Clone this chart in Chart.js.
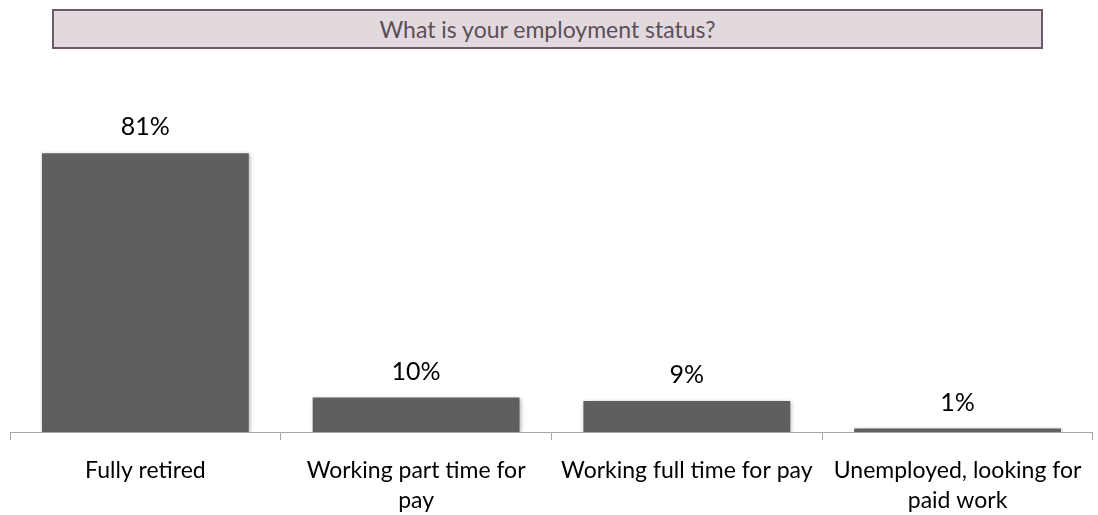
<!DOCTYPE html>
<html lang="en">
<head>
    <meta charset="UTF-8">
    <title>Employment status</title>
    <style>
        body {
            margin: 0;
            background-color: white;
            font-family: Lato, "Open Sans", sans-serif;
        }
        .wrap {
            position: relative;
            width: 1098px;
            height: 515px;
        }
        .title-box {
            position: absolute;
            left: 52px;
            top: 9px;
            width: 987px;
            height: 36px;
            background-color: #e2d9de;
            border: 2px solid #6e5a68;
            color: #5c4f57;
            font-size: 23px;
            line-height: 36px;
            text-align: center;
        }
        canvas {
            position: absolute;
            left: 0;
            top: 0;
        }
    </style>
</head>
<body>
    <div class="wrap">
        <canvas id="statusChart" width="1098" height="515"></canvas>
        <div class="title-box">What is your employment status?</div>
    </div>

    <script src="https://cdn.jsdelivr.net/npm/chart.js"></script>
    <script>
        // categories (wrapped like the original) and percentages
        const categories = [
            ['Fully retired'],
            ['Working part time for', 'pay'],
            ['Working full time for pay'],
            ['Unemployed, looking for', 'paid work']
        ];
        const percents = [81, 10, 9, 1];

        // writes the value above each bar
        const valueLabels = {
            id: 'valueLabels',
            afterDatasetsDraw(chart) {
                const ctx = chart.ctx;
                const meta = chart.getDatasetMeta(0);
                ctx.save();
                ctx.font = '25px Lato, sans-serif';
                ctx.fillStyle = '#000';
                ctx.textAlign = 'center';
                ctx.textBaseline = 'middle';
                meta.data.forEach(function(bar, i) {
                    ctx.fillText(percents[i] + '%', bar.x, bar.y - 26);
                });
                ctx.restore();
            }
        };

        // soft shadow behind the bars
        const barShadow = {
            id: 'barShadow',
            beforeDatasetsDraw(chart) {
                chart.ctx.save();
                chart.ctx.shadowColor = 'rgba(0, 0, 0, 0.3)';
                chart.ctx.shadowBlur = 4;
                chart.ctx.shadowOffsetX = 1;
                chart.ctx.shadowOffsetY = 1;
            },
            afterDatasetsDraw(chart) {
                chart.ctx.restore();
            }
        };

        new Chart(document.getElementById('statusChart'), {
            type: 'bar',
            data: {
                labels: categories,
                datasets: [{
                    data: percents,
                    backgroundColor: '#5f5f5f',
                    borderWidth: 0,
                    categoryPercentage: 1,
                    barPercentage: 0.764
                }]
            },
            options: {
                responsive: false,
                animation: false,
                layout: {
                    padding: { top: 88, left: 10, right: 5, bottom: 0 }
                },
                plugins: {
                    legend: { display: false },
                    tooltip: { enabled: false }
                },
                scales: {
                    x: {
                        afterFit(scale) {
                            // leave the same room under the axis as the original
                            scale.height = 83;
                        },
                        grid: {
                            offset: true,
                            drawOnChartArea: false,
                            color: '#a6a6a6',
                            tickLength: 8
                        },
                        border: { color: '#a6a6a6', width: 1 },
                        ticks: {
                            color: '#000',
                            padding: 16,
                            maxRotation: 0,
                            font: { family: 'Lato, sans-serif', size: 23, lineHeight: 1.3 }
                        }
                    },
                    y: {
                        display: false,
                        min: 0,
                        max: 100
                    }
                }
            },
            plugins: [barShadow, valueLabels]
        });
    </script>
</body>
</html>
